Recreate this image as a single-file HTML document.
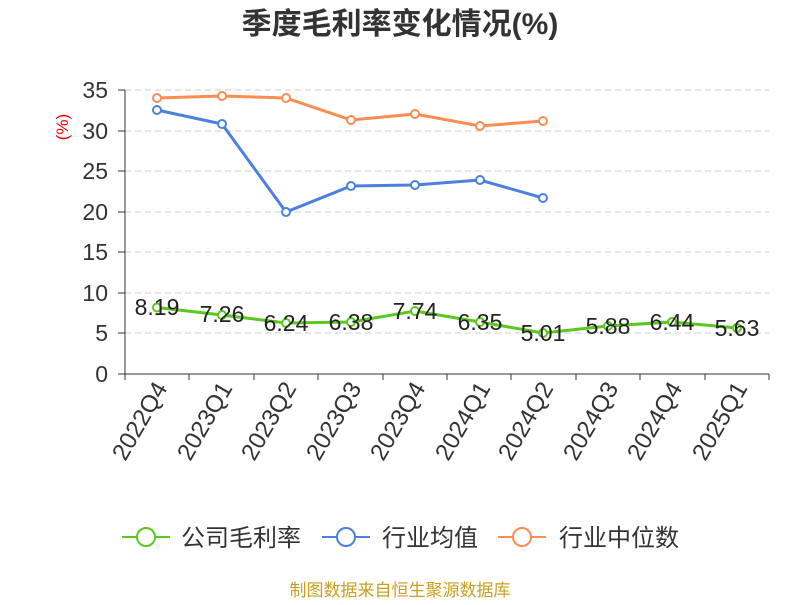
<!DOCTYPE html>
<html><head><meta charset="utf-8"><style>
body{margin:0;background:#fff;width:800px;height:600px;overflow:hidden}
text{font-family:"Liberation Sans","Noto Sans CJK SC",sans-serif}
</style></head><body>
<svg width="800" height="600" xmlns="http://www.w3.org/2000/svg">
<text x="400" y="34" text-anchor="middle" font-size="30" font-weight="bold" fill="#333">季度毛利率变化情况(%)</text>
<text x="68" y="127" font-size="17" fill="#e00" transform="rotate(-90 68 127)" text-anchor="middle">(%)</text>
<g stroke="#ccc" stroke-dasharray="6,4" stroke-width="1">
<line x1="125" x2="769" y1="90" y2="90"/><line x1="125" x2="769" y1="131" y2="131"/>
<line x1="125" x2="769" y1="171" y2="171"/><line x1="125" x2="769" y1="212" y2="212"/>
<line x1="125" x2="769" y1="252" y2="252"/><line x1="125" x2="769" y1="293" y2="293"/>
<line x1="125" x2="769" y1="333" y2="333"/>
</g>
<line x1="125" y1="90" x2="125" y2="374" stroke="#333"/>
<line x1="125" y1="374" x2="769" y2="374" stroke="#333"/>
<g stroke="#333">
<line x1="118" x2="125" y1="90" y2="90"/><line x1="118" x2="125" y1="131" y2="131"/><line x1="118" x2="125" y1="171" y2="171"/><line x1="118" x2="125" y1="212" y2="212"/><line x1="118" x2="125" y1="252" y2="252"/><line x1="118" x2="125" y1="293" y2="293"/><line x1="118" x2="125" y1="333" y2="333"/><line x1="118" x2="125" y1="374" y2="374"/>
<line x1="125" x2="125" y1="374" y2="380"/><line x1="189" x2="189" y1="374" y2="380"/><line x1="254" x2="254" y1="374" y2="380"/><line x1="318" x2="318" y1="374" y2="380"/><line x1="383" x2="383" y1="374" y2="380"/><line x1="447" x2="447" y1="374" y2="380"/><line x1="511" x2="511" y1="374" y2="380"/><line x1="576" x2="576" y1="374" y2="380"/><line x1="640" x2="640" y1="374" y2="380"/><line x1="705" x2="705" y1="374" y2="380"/><line x1="769" x2="769" y1="374" y2="380"/>
</g>
<g font-size="23" fill="#333" text-anchor="end">
<text x="108" y="98">35</text><text x="108" y="139">30</text><text x="108" y="179">25</text><text x="108" y="220">20</text><text x="108" y="260">15</text><text x="108" y="301">10</text><text x="108" y="341">5</text><text x="108" y="382">0</text>
</g>
<g font-size="24" fill="#333" text-anchor="end">
<text transform="translate(168,388) rotate(-60)">2022Q4</text>
<text transform="translate(233,388) rotate(-60)">2023Q1</text>
<text transform="translate(297,388) rotate(-60)">2023Q2</text>
<text transform="translate(362,388) rotate(-60)">2023Q3</text>
<text transform="translate(426,388) rotate(-60)">2023Q4</text>
<text transform="translate(491,388) rotate(-60)">2024Q1</text>
<text transform="translate(554,388) rotate(-60)">2024Q2</text>
<text transform="translate(619,388) rotate(-60)">2024Q3</text>
<text transform="translate(683,388) rotate(-60)">2024Q4</text>
<text transform="translate(748,388) rotate(-60)">2025Q1</text>
</g>
<polyline fill="none" stroke="#fb8c52" stroke-width="3" points="157,98 222,96 286,98 351,120 415,114 480,126 543,121"/>
<g fill="#fff" stroke="#fb8c52" stroke-width="2"><circle cx="157" cy="98" r="4"/><circle cx="222" cy="96" r="4"/><circle cx="286" cy="98" r="4"/><circle cx="351" cy="120" r="4"/><circle cx="415" cy="114" r="4"/><circle cx="480" cy="126" r="4"/><circle cx="543" cy="121" r="4"/></g>
<polyline fill="none" stroke="#4a80e0" stroke-width="3" points="157,110 222,124 286,212 351,186 415,185 480,180 543,198"/>
<g fill="#fff" stroke="#4a80e0" stroke-width="2"><circle cx="157" cy="110" r="4"/><circle cx="222" cy="124" r="4"/><circle cx="286" cy="212" r="4"/><circle cx="351" cy="186" r="4"/><circle cx="415" cy="185" r="4"/><circle cx="480" cy="180" r="4"/><circle cx="543" cy="198" r="4"/></g>
<polyline fill="none" stroke="#5ac81e" stroke-width="3" points="157,307.5 222,315 286,323 351,322 415,311 480,322 543,333 608,326 672,322 737,328"/>
<g fill="#fff" stroke="#5ac81e" stroke-width="2"><circle cx="157" cy="307.5" r="4"/><circle cx="222" cy="315" r="4"/><circle cx="286" cy="323" r="4"/><circle cx="351" cy="322" r="4"/><circle cx="415" cy="311" r="4"/><circle cx="480" cy="322" r="4"/><circle cx="543" cy="333" r="4"/><circle cx="608" cy="326" r="4"/><circle cx="672" cy="322" r="4"/><circle cx="737" cy="328" r="4"/></g>
<g font-size="23" fill="#222" text-anchor="middle">
<text x="157" y="315">8.19</text><text x="222" y="322">7.26</text><text x="286" y="331">6.24</text><text x="351" y="330">6.38</text><text x="415" y="319">7.74</text><text x="480" y="330">6.35</text><text x="543" y="341">5.01</text><text x="608" y="334">5.88</text><text x="672" y="330">6.44</text><text x="737" y="336">5.63</text>
</g>
<g stroke-width="2" fill="#fff">
<line x1="122" x2="170" y1="537" y2="537" stroke="#5ac81e"/><circle cx="146" cy="537" r="9" stroke="#5ac81e"/>
<line x1="322" x2="370" y1="537" y2="537" stroke="#4a80e0"/><circle cx="346" cy="537" r="9" stroke="#4a80e0"/>
<line x1="498" x2="546" y1="537" y2="537" stroke="#fb8c52"/><circle cx="522" cy="537" r="9" stroke="#fb8c52"/>
</g>
<g font-size="24" fill="#333">
<text x="181" y="546">公司毛利率</text><text x="382" y="546">行业均值</text><text x="559" y="546">行业中位数</text>
</g>
<text x="400" y="596" text-anchor="middle" font-size="17" fill="#c8a020">制图数据来自恒生聚源数据库</text>
</svg>
</body></html>
